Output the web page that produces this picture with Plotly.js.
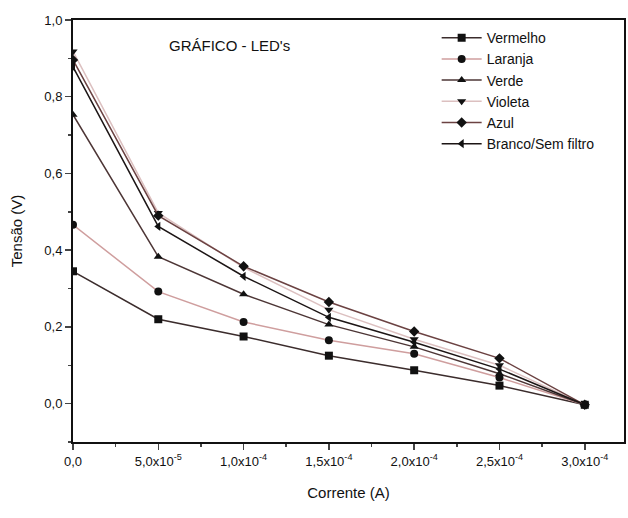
<!DOCTYPE html>
<html>
<head>
<meta charset="utf-8">
<script src="https://cdn.plot.ly/plotly-3.0.1.min.js"></script>
<style>html,body{margin:0;padding:0;background:#fff;}#chart{width:628px;height:518px;}</style>
</head>
<body>
<div id="chart"></div>
<script>
const corrente = [0, 5e-5, 1e-4, 1.5e-4, 2e-4, 2.5e-4, 3e-4];
const vermelho = [0.345, 0.220, 0.175, 0.125, 0.087, 0.047, -0.003];
const laranja  = [0.466, 0.292, 0.213, 0.165, 0.130, 0.068, -0.003];
const verde    = [0.753, 0.383, 0.285, 0.206, 0.148, 0.078, -0.003];
const violeta  = [0.918, 0.497, 0.355, 0.245, 0.168, 0.100, -0.003];
const azul     = [0.896, 0.490, 0.358, 0.265, 0.188, 0.118, -0.003];
const branco   = [0.878, 0.462, 0.332, 0.225, 0.160, 0.090, -0.003];

const seriesNames = ["Vermelho", "Laranja", "Verde", "Violeta", "Azul", "Branco/Sem filtro"];
const xTickVals = [0, 5e-5, 1e-4, 1.5e-4, 2e-4, 2.5e-4, 3e-4];
const xTickText = ["0,0", "5,0x10<sup>-5</sup>", "1,0x10<sup>-4</sup>", "1,5x10<sup>-4</sup>", "2,0x10<sup>-4</sup>", "2,5x10<sup>-4</sup>", "3,0x10<sup>-4</sup>"];
const yTickVals = [0, 0.2, 0.4, 0.6, 0.8, 1.0];
const yTickText = ["0,0", "0,2", "0,4", "0,6", "0,8", "1,0"];

const values = [vermelho, laranja, verde, violeta, azul, branco];
const symbols = ["square", "circle", "triangle-up", "triangle-down", "diamond", "triangle-left"];
const lineColors = ["#3b2c2c", "#cf9e9e", "#4d3636", "#dcc0c0", "#6b4242", "#1c1515"];

const traces = values.map((v, i) => ({
  x: corrente, y: v, name: seriesNames[i], type: "scatter", mode: "lines+markers",
  line: {color: lineColors[i], width: 1.5},
  marker: {symbol: symbols[i], size: 8, color: "#111"}
}));

const font = {family: "Liberation Sans, Arial, sans-serif", color: "#111"};
const layout = {
  width: 628, height: 518,
  margin: {l: 73, r: 4, t: 20, b: 76},
  paper_bgcolor: "#fff", plot_bgcolor: "#fff",
  showlegend: true,
  legend: {x: 0.66, y: 0.995, xanchor: "left", yanchor: "top", bgcolor: "rgba(0,0,0,0)",
           font: {family: font.family, size: 14, color: "#111"}, itemwidth: 40, tracegroupgap: 0},
  xaxis: {range: [0, 3.23e-4], tickvals: xTickVals, ticktext: xTickText, ticks: "outside", ticklen: 6,
          tickwidth: 1.5, showline: true, linewidth: 2, linecolor: "#111", mirror: true, showgrid: false, zeroline: false,
          tickfont: {family: font.family, size: 13, color: "#111"},
          minor: {tick0: 0, dtick: 2.5e-5, ticks: "outside", ticklen: 3, showgrid: false},
          title: {text: "Corrente (A)", font: {family: font.family, size: 15, color: "#111"}, standoff: 20}},
  yaxis: {range: [-0.1, 1.0], tickvals: yTickVals, ticktext: yTickText, ticks: "outside", ticklen: 6,
          tickwidth: 1.5, showline: true, linewidth: 2, linecolor: "#111", mirror: true, showgrid: false, zeroline: false,
          tickfont: {family: font.family, size: 13, color: "#111"},
          minor: {tick0: 0, dtick: 0.1, ticks: "outside", ticklen: 3, showgrid: false},
          title: {text: "Tensão (V)", font: {family: font.family, size: 15, color: "#111"}, standoff: 18}},
  annotations: [{text: "GRÁFICO - LED's", xref: "paper", yref: "paper", x: 0.17, y: 0.94, xanchor: "left", yanchor: "middle",
                 showarrow: false, font: {family: font.family, size: 15, color: "#111"}}]
};
Plotly.newPlot("chart", traces, layout, {displayModeBar: false, staticPlot: true});
</script>
</body>
</html>
